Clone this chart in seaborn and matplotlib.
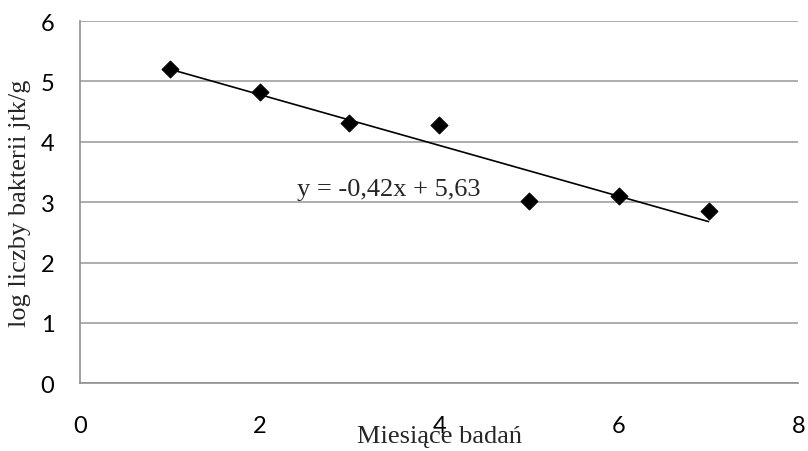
import pandas as pd
import matplotlib.pyplot as plt
import seaborn as sns
import numpy as np

# dane: miesiące i log liczby bakterii
miesiace = [1, 2, 3, 4, 5, 6, 7]
log_bakterii = [5.20, 4.82, 4.32, 4.28, 3.02, 3.10, 2.85]
df = pd.DataFrame({'miesiac': miesiace, 'log': log_bakterii})

sns.set_style('white')
plt.rcParams['font.family'] = ['Lato', 'DejaVu Sans']

fig = plt.figure(figsize=(8.08, 4.52), dpi=100)
ax = fig.add_axes([0.099, 0.150, 0.889, 0.801])

# linia trendu
sns.regplot(x='miesiac', y='log', data=df, ci=None, scatter=False, truncate=True,
            line_kws={'color': 'black', 'linewidth': 1.2}, ax=ax)
sns.scatterplot(x='miesiac', y='log', data=df, marker='D', s=75, color='black',
                edgecolor='black', ax=ax, zorder=3)

a, b = np.polyfit(miesiace, log_bakterii, 1)
rownanie = f'y = {a:.2f}x + {b:.2f}'.replace('.', ',')
ax.text(2.42, 3.22, rownanie, family='Liberation Serif', fontsize=19, va='center', ha='left')

ax.set_xlim(0, 8)
ax.set_ylim(0, 6)
ax.set_xticks([0, 2, 4, 6, 8])
ax.set_yticks([0, 1, 2, 3, 4, 5, 6])
ax.yaxis.grid(True, color='#a0a0a0', linewidth=1.2)
ax.set_axisbelow(True)
for s in ['top', 'right']:
    ax.spines[s].set_visible(False)
for s in ['left', 'bottom']:
    ax.spines[s].set_color('#909090')
    ax.spines[s].set_linewidth(1.2)
ax.tick_params(axis='both', which='both', direction='out', length=7, width=1.2,
               color='#909090', labelsize=17, labelcolor='black')
ax.tick_params(axis='x', pad=16)
ax.tick_params(axis='y', pad=11.5)

ax.set_xlabel('Miesiące badań', family='Liberation Serif', fontsize=19, labelpad=-8)
ax.set_ylabel('log liczby bakterii jtk/g', family='Liberation Serif', fontsize=19, labelpad=7)

fig.savefig('out.png', dpi=100)
